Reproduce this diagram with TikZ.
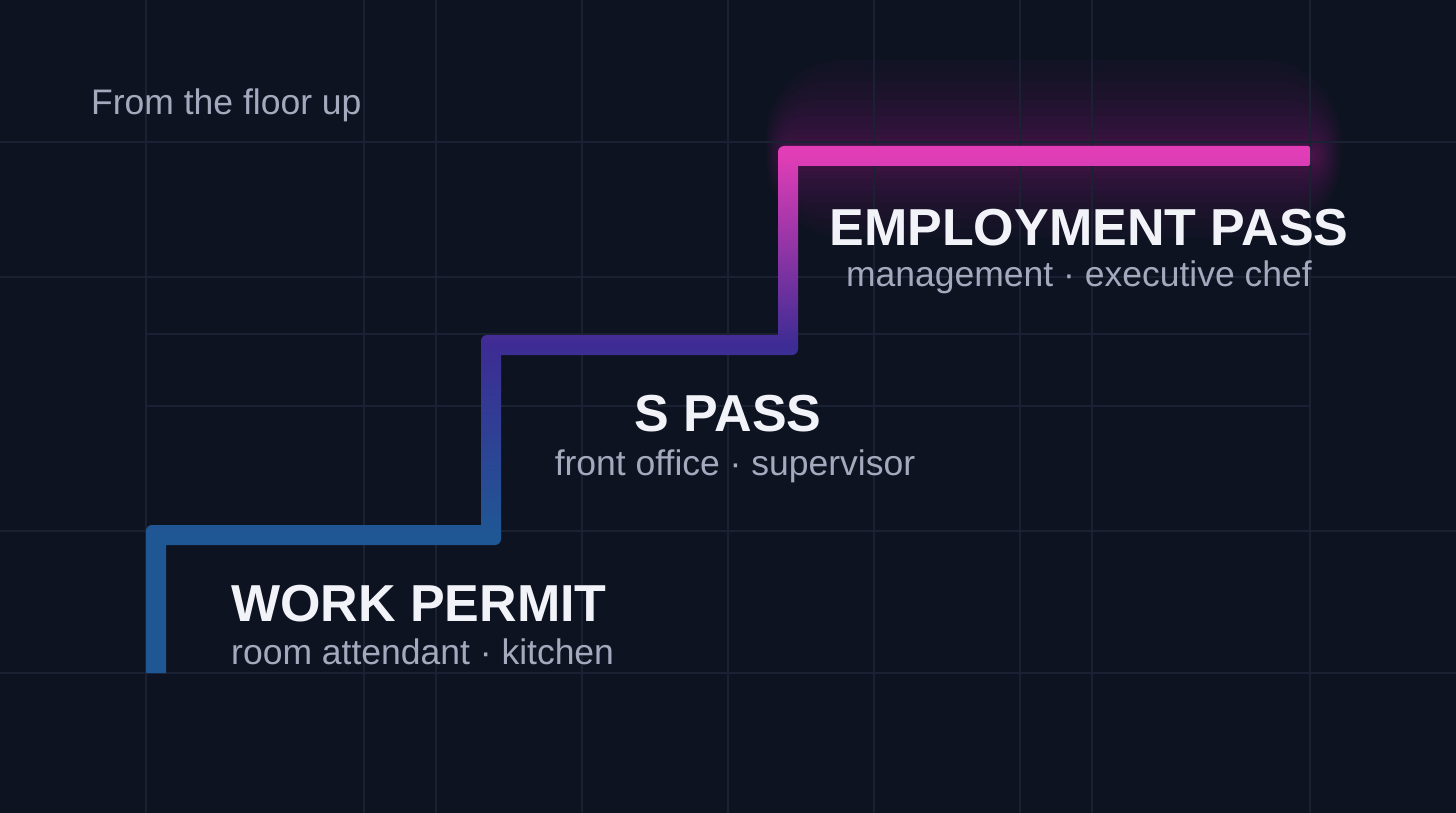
\documentclass[tikz,border=0pt]{standalone}
\usepackage{fontspec}
\setsansfont{Liberation Sans}
\definecolor{StairNight}{HTML}{0E1321}
\definecolor{StairGrid}{HTML}{1A2132}
\definecolor{StairBlue}{HTML}{1F5794}
\definecolor{StairViolet}{HTML}{3D2C94}
\definecolor{StairPink}{HTML}{E03DB6}
\definecolor{StairWhite}{HTML}{F2F3F8}
\definecolor{StairMist}{HTML}{A3AABD}

\begin{document}
\begin{tikzpicture}[
    x=1pt, y=-1pt,
    font=\sffamily,
    gridline/.style={
        draw=StairGrid,
        line width=1.2pt
    },
    tier/.style={
        anchor=base,
        inner sep=0pt,
        text=StairWhite,
        font=\sffamily\bfseries\fontsize{52}{60}\selectfont
    },
    duty/.style={
        anchor=base,
        inner sep=0pt,
        text=StairMist,
        font=\sffamily\fontsize{35.5}{40}\selectfont
    },
    glow/.style={
        fill=StairPink,
        opacity=0.024
    }
]
    \fill[StairNight] (0,0) rectangle (1456,813);
    \useasboundingbox (0,0) rectangle (1456,813);

    % soft light behind the top step
    \foreach \g in {1,...,16}
        \fill[glow, rounded corners=0.3*\g*\g+2]
            (790-\g*1.5, 152-\g*\g*0.36) rectangle (1312+\g*1.8, 160+\g*\g*0.3);

    % grid
    \foreach \x in {146,364,436,582,728,874,1020,1092,1310}
        \draw[gridline] (\x,0) -- (\x,813);
    \foreach \y in {142,277,531,673}
        \draw[gridline] (0,\y) -- (1456,\y);
    \foreach \y in {334,406}
        \draw[gridline] (146,\y) -- (1310,\y);

    % the stairs, shaded from bottom to top
    \begin{scope}
        \clip (146,673)
            [rounded corners=6pt] -- (146,525)
            [sharp corners] -- (481,525)
            [rounded corners=6pt] -- (481,335)
            [sharp corners] -- (778,335)
            [rounded corners=6pt] -- (778,146)
            [rounded corners=2pt] -- (1310,146) -- (1310,166)
            [sharp corners] -- (798,166)
            [rounded corners=6pt] -- (798,355)
            [sharp corners] -- (501,355)
            [rounded corners=6pt] -- (501,545)
            [sharp corners] -- (166,545) -- (166,673) -- cycle;
        \fill[StairBlue] (140,535) rectangle (1320,680);
        \shade[bottom color=StairBlue, top color=StairViolet]
            (140,345) rectangle (1320,535);
        \shade[bottom color=StairViolet, top color=StairPink]
            (140,156) rectangle (1320,345);
        \fill[StairPink] (140,140) rectangle (1320,156);
    \end{scope}

    % labels
    \node[duty, anchor=base west] (motto) at (91,115)
        {From the floor up};

    \node[tier] (ep) at (1089,245) {EMPLOYMENT PASS};
    \node[duty] (epduty) at ([xshift=-10pt, yshift=-41pt]ep.base)
        {management · executive chef};

    \node[tier] (sp) at (728,431) {S PASS};
    \node[duty] (spduty) at ([xshift=7pt, yshift=-44pt]sp.base)
        {front office · supervisor};

    \node[tier, anchor=base west] (wp) at (231,621) {WORK PERMIT};
    \node[duty, anchor=base west] (wpduty) at ([yshift=-43pt]wp.base west)
        {room attendant · kitchen};
\end{tikzpicture}
\end{document}
